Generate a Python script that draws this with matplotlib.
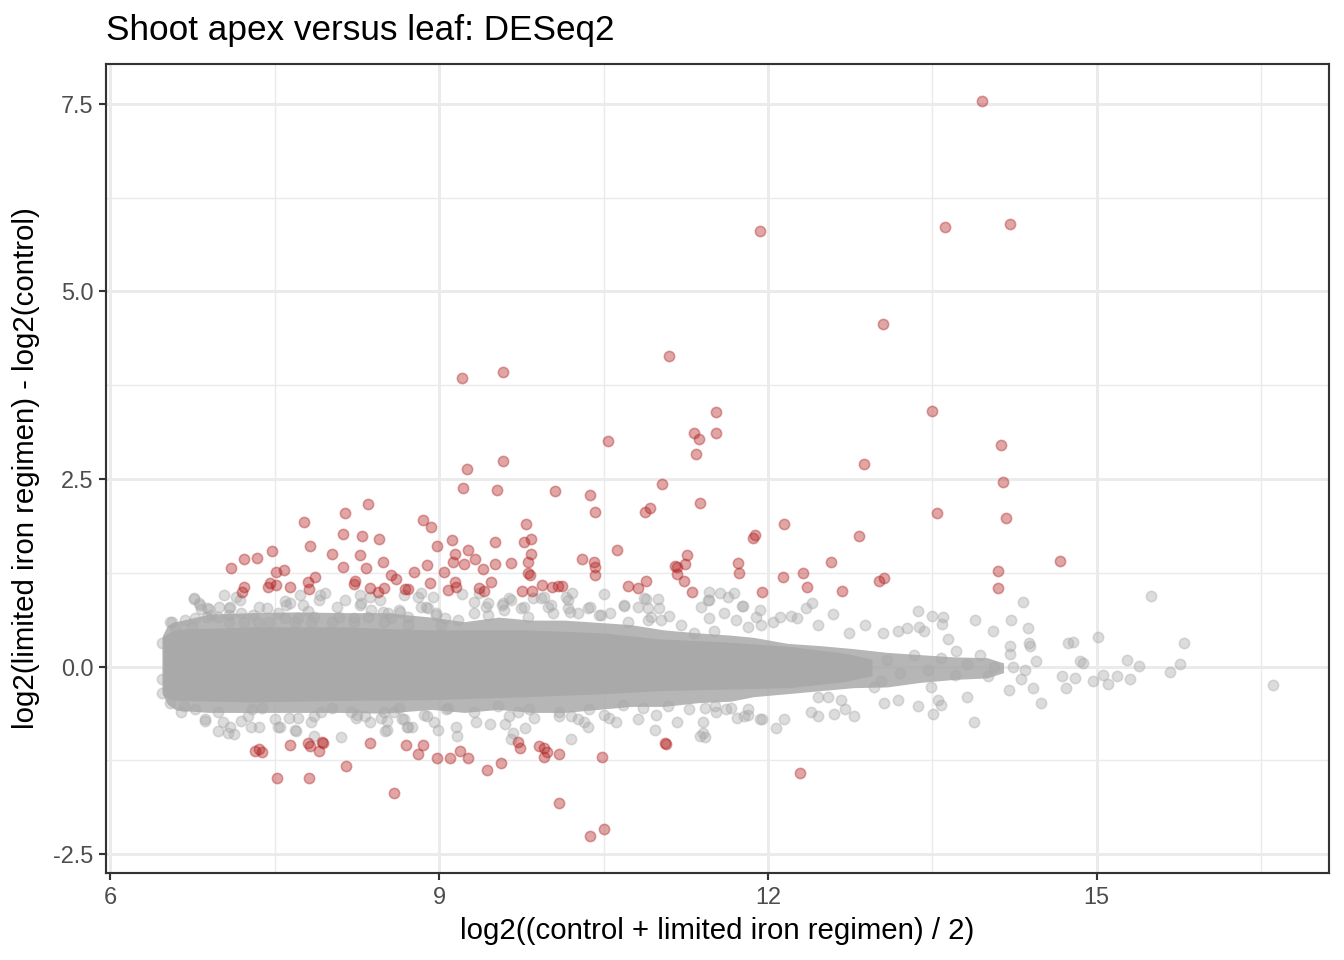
import numpy as np
import matplotlib
matplotlib.use("Agg")
import matplotlib.pyplot as plt

plt.rcParams['font.family'] = ['Liberation Sans', 'DejaVu Sans']

# -------------------------------
# DATA
# -------------------------------
# dense core of the grey cloud: envelope of the saturated band
core_x = [6.48, 6.55, 6.62, 7.3, 8.1, 8.9, 9.8, 10.5, 11.0, 11.6, 12.2, 12.7, 12.95]
core_hi = [0.40, 0.47, 0.50, 0.53, 0.53, 0.49, 0.49, 0.45, 0.37, 0.33, 0.27, 0.18, 0.10]
core_lo = [-0.38, -0.44, -0.45, -0.47, -0.45, -0.44, -0.40, -0.36, -0.32, -0.30, -0.28, -0.20, -0.12]

# less dense fringe round the core
fringe_x = [6.47, 6.52, 6.6, 6.9, 7.3, 7.7, 8.1, 8.5, 8.93, 9.23, 9.54, 9.84, 10.14, 10.45,
            10.75, 11.05, 11.36, 11.66, 11.87, 12.18, 12.48, 12.78, 13.09, 13.39, 13.70, 14.0, 14.15]
fringe_hi = [0.40, 0.55, 0.60, 0.70, 0.72, 0.73, 0.72, 0.72, 0.66, 0.60, 0.66, 0.62, 0.62, 0.59,
             0.56, 0.49, 0.45, 0.42, 0.39, 0.31, 0.28, 0.24, 0.19, 0.16, 0.13, 0.12, 0.05]
fringe_lo = [-0.35, -0.50, -0.58, -0.61, -0.61, -0.61, -0.61, -0.62, -0.57, -0.61, -0.57, -0.61, -0.61, -0.57,
             -0.53, -0.53, -0.48, -0.46, -0.40, -0.36, -0.32, -0.28, -0.27, -0.21, -0.17, -0.15, -0.08]

# grey genes at the edge of the fringe
edge_x = [6.76, 6.81, 6.83, 6.90, 7.08, 7.18, 6.56, 6.74, 6.92, 6.98, 7.08, 7.30, 7.53, 7.35,
          7.45, 7.60, 7.76, 7.86, 7.71, 7.59, 7.90, 8.09, 8.22, 8.29, 8.38, 8.49, 8.35, 8.56,
          8.63, 8.72, 8.81, 8.90, 8.97, 9.02, 8.72, 8.50, 8.22, 8.02, 7.83, 7.68, 7.08, 7.22,
          6.67, 6.86, 7.09, 7.03, 7.26, 7.29, 7.38, 7.53, 7.68, 7.71, 7.83, 7.92, 8.02, 8.20,
          8.24, 8.32, 8.47, 8.52, 8.52, 8.50, 8.63, 8.68, 8.72, 8.86, 9.08,
          9.32, 9.43, 9.45, 9.58, 9.59, 9.66, 9.75, 9.81, 9.93, 9.99, 10.04, 10.18, 10.19, 10.36,
          10.46, 10.69, 10.87, 10.91, 11.02, 10.91, 11.45, 11.46, 9.17,
          9.06, 9.32, 9.64, 9.72, 9.82, 10.09, 10.20, 10.32, 10.37, 10.55, 10.68, 10.98, 11.41,
          11.43, 11.53, 11.66, 11.82, 11.93]
edge_y = [0.90, 0.85, 0.77, 0.77, 0.78, 0.89, 0.59, 0.53, 0.69, 0.66, 0.69, 0.69, 0.72, 0.59,
          0.59, 0.82, 0.82, 0.66, 0.65, 0.65, 0.89, 0.66, 0.65, 0.85, 0.76, 0.73, 0.66, 0.65,
          0.76, 0.66, 0.93, 0.78, 0.69, 0.56, 0.56, 0.59, 0.59, 0.60, 0.60, 0.59, 0.60, 0.59,
          -0.53, -0.70, -0.80, -0.74, -0.66, -0.57, -0.55, -0.80, -0.84, -0.68, -0.74, -0.60, -0.55, -0.61,
          -0.68, -0.66, -0.68, -0.73, -0.84, -0.60, -0.55, -0.70, -0.81, -0.64, -0.55,
          0.86, 0.80, 0.69, 0.85, 0.76, 0.89, 0.78, 0.66, 0.92, 0.80, 0.72, 0.89, 0.73, 0.78,
          0.69, 0.82, 0.92, 0.78, 0.62, 0.62, 0.89, 0.65, 0.62,
          -0.57, -0.60, -0.66, -0.61, -0.57, -0.61, -0.66, -0.74, -0.57, -0.68, -0.51, -0.64, -0.88,
          -0.55, -0.61, -0.55, -0.64, -0.70]

# scattered grey genes outside the band
grey_x = [6.76, 7.04, 7.15, 6.82, 6.88, 6.99, 7.09, 7.19, 6.54, 6.59, 6.68, 6.77, 6.88, 7.36,
          7.43, 7.59, 7.64, 7.73, 7.80, 7.91, 7.96, 8.14, 8.07, 8.28, 8.37, 8.46, 8.68, 8.83,
          8.94, 8.28, 8.53, 8.64, 8.83, 6.47, 6.47, 6.47, 6.54,
          6.64, 6.77, 6.86, 6.98, 7.07, 7.13, 7.19, 7.28, 7.36, 6.98, 7.50, 7.55, 7.63, 7.69,
          7.86, 7.86, 8.10, 8.25, 8.37, 8.51, 8.59, 8.66, 8.71, 8.75, 8.89, 8.95,
          8.88, 8.97, 9.05, 9.21, 9.32, 9.36, 9.45, 9.57, 9.64, 9.77, 9.86, 9.96, 10.02, 10.16,
          10.21, 10.18, 10.27, 10.38, 10.50, 10.48, 10.56, 10.69, 10.81, 10.89, 11.00, 11.01,
          10.93, 10.72, 11.10, 11.21, 11.39, 11.46, 11.46, 11.56, 11.64, 11.69, 11.76, 11.60,
          11.71, 11.82, 11.51, 11.33,
          8.99, 9.15, 9.16, 9.34, 9.46, 9.54, 9.60, 9.67, 9.66, 9.78, 9.87, 10.09, 10.20, 10.27,
          10.36, 10.50, 10.61, 10.81, 10.86, 10.97, 11.09, 11.17, 11.28, 11.41, 11.38, 11.43,
          11.52, 11.62, 11.72, 11.82,
          11.77, 11.93, 11.94, 11.89, 12.05, 12.11, 12.21, 12.27, 12.35, 12.40, 12.46, 12.59,
          12.74, 12.89, 13.05, 13.19, 13.27, 13.37, 13.38, 13.42, 13.50, 13.60, 13.59, 13.64,
          13.72, 13.89, 14.05, 14.22, 14.21, 14.21, 14.33, 14.37, 14.39, 14.45, 14.74,
          13.58, 13.71, 13.82, 13.94, 14.06, 14.01, 14.24, 14.31, 14.35, 14.68, 14.72, 13.46,
          13.33, 13.21, 13.09, 13.03, 13.49,
          11.78, 11.95, 12.07, 12.15, 12.39, 12.46, 12.60, 12.70, 12.79, 12.46, 12.55, 12.67,
          12.97, 13.06, 13.19, 13.37, 13.51, 13.55, 13.58, 13.82, 13.88, 14.20, 14.42, 14.49,
          14.38, 14.78, 15.01, 14.85, 14.88, 14.80, 14.97, 15.06, 15.10, 15.19, 15.28, 15.30,
          15.39, 15.50, 15.67, 15.76, 15.80, 16.61]
grey_y = [0.92, 0.96, 0.93, 0.82, 0.78, 0.80, 0.80, 0.72, 0.59, 0.53, 0.62, 0.65, 0.66, 0.80,
          0.78, 0.88, 0.85, 0.96, 0.74, 0.96, 0.98, 0.89, 0.80, 0.96, 0.93, 0.89, 0.96, 0.98,
          0.93, 0.82, 0.72, 0.73, 0.80, 0.32, -0.16, -0.35, -0.48,
          -0.61, -0.57, -0.73, -0.86, -0.89, -0.90, -0.73, -0.80, -0.80, -0.61, -0.70, -0.81, -0.69, -0.86,
          -0.93, -0.66, -0.94, -0.64, -0.74, -0.86, -0.61, -0.70, -0.81, -0.80, -0.66, -0.74,
          0.80, 0.72, 0.65, 0.97, 0.72, 0.98, 0.85, 0.82, 0.92, 0.80, 0.92, 0.93, 0.82, 0.93,
          0.98, 0.78, 0.72, 0.80, 0.97, 0.69, 0.72, 0.81, 0.80, 0.90, 0.90, 0.78,
          0.66, 0.60, 0.68, 0.56, 0.80, 1.00, 0.89, 0.98, 0.93, 0.98, 0.81, 0.72,
          0.62, 0.53, 0.47, 0.45,
          -0.84, -0.80, -0.93, -0.74, -0.77, -0.53, -0.77, -0.88, -0.97, -0.82, -0.68, -0.66, -0.97, -0.70,
          -0.80, -0.64, -0.74, -0.70, -0.55, -0.85, -0.53, -0.74, -0.57, -0.74, -0.92, -0.94,
          -0.53, -0.57, -0.69, -0.56,
          0.81, 0.76, 0.56, 0.66, 0.59, 0.66, 0.68, 0.65, 0.78, 0.85, 0.55, 0.70,
          0.45, 0.56, 0.45, 0.48, 0.51, 0.74, 0.53, 0.47, 0.68, 0.66, 0.57, 0.37,
          0.21, 0.62, 0.48, 0.62, 0.27, 0.17, 0.86, 0.52, 0.27, 0.08, 0.32,
          0.12, -0.11, 0.04, 0.15, -0.01, -0.13, -0.01, -0.16, -0.04, -0.13, -0.28, -0.05,
          0.15, -0.08, 0.09, -0.19, -0.27,
          -0.66, -0.70, -0.82, -0.70, -0.60, -0.66, -0.63, -0.57, -0.66, -0.41, -0.40, -0.44,
          -0.27, -0.48, -0.44, -0.53, -0.63, -0.44, -0.51, -0.41, -0.74, -0.31, -0.28, -0.49,
          0.32, 0.33, 0.40, 0.08, 0.05, -0.15, -0.19, -0.11, -0.23, -0.12, 0.09, -0.17,
          0.01, 0.94, -0.07, 0.03, 0.31, -0.25]

# significant genes (red)
red_x = [13.95, 13.62, 14.21, 11.93, 13.05, 11.10, 9.21, 9.58, 13.50, 11.53, 11.53, 11.33,
         11.37, 11.34, 10.54, 14.13, 14.15, 14.17, 9.25, 9.58, 9.22, 9.53, 12.88, 10.06,
         10.38, 10.42, 11.03, 10.88, 10.92, 11.38, 13.54, 12.15, 11.86, 11.88, 12.83, 14.67,
         7.10, 7.22, 7.34, 7.47, 7.77, 7.82, 7.51, 7.58, 7.46, 7.44, 7.51, 7.22, 7.20, 7.64,
         7.80, 7.81, 7.87, 8.02, 8.12, 8.14, 8.30, 8.35, 8.45, 8.28, 8.33, 8.49, 8.12, 8.22,
         8.23, 8.37, 8.44, 8.50, 8.56, 8.61, 8.69, 8.72, 8.77, 8.89, 8.92, 8.85, 8.93, 8.98,
         9.12, 9.14, 9.26, 9.13, 9.23, 9.33, 9.40, 9.51, 9.51, 9.66, 9.79, 9.77, 9.84, 9.84,
         9.81, 9.81, 9.83, 9.04, 9.14, 9.08, 9.15, 9.36, 9.41, 9.47, 9.76, 9.85, 9.94, 10.03,
         10.08, 10.12, 10.30, 10.41, 10.42, 10.42, 10.62, 10.72, 10.81, 10.89, 11.15, 11.17,
         11.24, 11.26, 11.17, 11.23, 11.31, 11.73, 11.74, 12.58, 12.14, 12.32, 12.36, 12.68,
         11.95, 13.01, 13.06, 14.10, 14.10,
         7.32, 7.36, 7.38, 7.52, 7.64, 7.80, 7.82, 7.90, 7.93, 7.94, 7.81, 8.15, 8.37, 8.59,
         8.70, 8.81, 8.85, 8.98, 9.10, 9.19, 9.26, 9.44, 9.56, 9.72, 9.74, 9.91, 9.96, 9.98,
         9.96, 10.09, 10.49, 11.06, 11.07, 10.09, 10.38, 10.50, 12.29]
red_y = [7.54, 5.86, 5.90, 5.81, 4.56, 4.14, 3.84, 3.92, 3.40, 3.39, 3.11, 3.11,
         3.03, 2.83, 3.01, 2.95, 2.46, 1.98, 2.63, 2.74, 2.38, 2.35, 2.70, 2.34,
         2.29, 2.06, 2.43, 2.06, 2.11, 2.18, 2.05, 1.90, 1.72, 1.76, 1.74, 1.41,
         1.32, 1.44, 1.45, 1.54, 1.93, 1.61, 1.26, 1.29, 1.12, 1.06, 1.09, 1.06, 1.00, 1.06,
         1.13, 1.04, 1.20, 1.50, 1.77, 2.05, 1.74, 2.17, 1.70, 1.49, 1.32, 1.40, 1.33, 1.10,
         1.14, 1.05, 1.00, 1.05, 1.22, 1.17, 1.04, 1.04, 1.26, 1.36, 1.12, 1.95, 1.86, 1.61,
         1.69, 1.50, 1.56, 1.40, 1.37, 1.44, 1.30, 1.66, 1.37, 1.38, 1.90, 1.66, 1.70, 1.50,
         1.40, 1.25, 1.22, 1.26, 1.13, 1.02, 1.06, 1.05, 1.01, 1.13, 1.01, 1.01, 1.09, 1.06,
         1.08, 1.08, 1.44, 1.40, 1.33, 1.22, 1.56, 1.08, 1.05, 1.14, 1.34, 1.33,
         1.37, 1.49, 1.24, 1.14, 1.00, 1.38, 1.25, 1.40, 1.20, 1.25, 1.06, 1.01,
         1.00, 1.14, 1.18, 1.28, 1.05,
         -1.12, -1.10, -1.14, -1.49, -1.05, -1.02, -1.06, -1.12, -1.00, -1.02, -1.49, -1.32, -1.02, -1.68,
         -1.05, -1.16, -1.04, -1.22, -1.22, -1.13, -1.22, -1.38, -1.28, -1.01, -1.08, -1.06, -1.09, -1.14,
         -1.20, -1.17, -1.21, -1.02, -1.03, -1.82, -2.26, -2.17, -1.42]

x_ticks = [6, 9, 12, 15]
x_minor = [7.5, 10.5, 13.5, 16.5]
y_ticks = [-2.5, 0.0, 2.5, 5.0, 7.5]
y_labels = ["-2.5", "0.0", "2.5", "5.0", "7.5"]
y_minor = [-1.25, 1.25, 3.75, 6.25]

GREY = "#A9A9A9"
RED = "#B22222"

# -------------------------------
# PLOT
# -------------------------------
fig = plt.figure(figsize=(7, 5), dpi=192)
ax = fig.add_axes([0.0789, 0.0906, 0.9099, 0.8427])

ax.fill_between(fringe_x, fringe_lo, fringe_hi, color=GREY, alpha=0.85, lw=0, zorder=2)
ax.fill_between(core_x, core_lo, core_hi, color=GREY, alpha=1.0, lw=0, zorder=2)
ax.scatter(edge_x, edge_y, s=15, color=GREY, alpha=0.4, linewidths=0.6, zorder=3)
ax.scatter(grey_x, grey_y, s=15, color=GREY, alpha=0.4, linewidths=0.6, zorder=3)
ax.scatter(red_x, red_y, s=15, color=RED, alpha=0.4, linewidths=0.6, zorder=4)

ax.set_xlim(5.96, 17.12)
ax.set_ylim(-2.75, 8.03)

ax.set_xticks(x_ticks)
ax.set_xticklabels([str(v) for v in x_ticks])
ax.set_xticks(x_minor, minor=True)
ax.set_yticks(y_ticks)
ax.set_yticklabels(y_labels)
ax.set_yticks(y_minor, minor=True)

ax.grid(which='major', color='#EBEBEB', linewidth=1.1, zorder=0)
ax.grid(which='minor', color='#EBEBEB', linewidth=0.55, zorder=0)
ax.set_axisbelow(True)
ax.tick_params(which='major', length=2.75, width=0.8, color='#333333',
               labelsize=8.8, labelcolor='#4D4D4D', pad=2)
ax.tick_params(which='minor', length=0)
for sp in ax.spines.values():
    sp.set_color('#333333')
    sp.set_linewidth(0.8)

ax.set_xlabel("log2((control + limited iron regimen) / 2)", fontsize=11, labelpad=3)
ax.set_ylabel("log2(limited iron regimen) - log2(control)", fontsize=11, labelpad=5)
ax.set_title("Shoot apex versus leaf: DESeq2", loc='left', fontsize=13.2, pad=9)

fig.savefig("out.png", dpi=192)
